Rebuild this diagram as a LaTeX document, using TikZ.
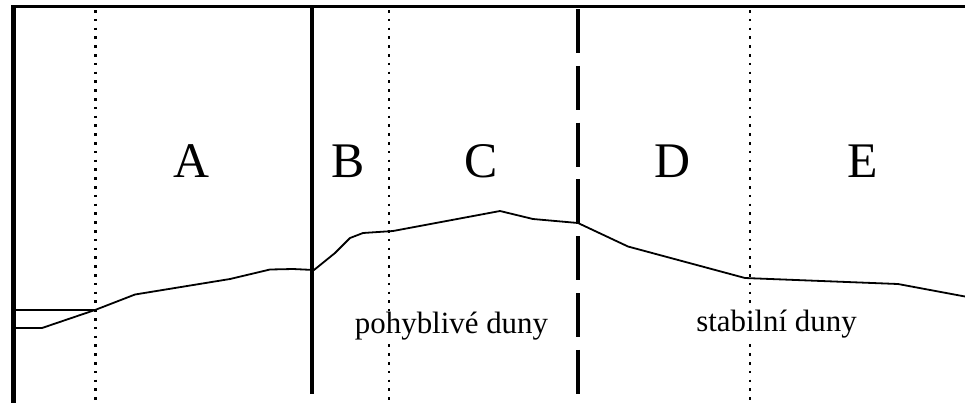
\documentclass[tikz,border=0pt]{standalone}
\usepackage{fontspec}
\setmainfont{Liberation Serif}
\begin{document}
\begin{tikzpicture}[x=1bp,y=-1bp,
  zone/.style={font=\fontsize{50}{50}\selectfont, anchor=base, inner sep=0pt},
  duny/.style={font=\fontsize{31}{31}\selectfont, anchor=base, inner sep=1bp, fill=white},
  dotline/.style={line width=2.4bp, dash pattern=on 2.6bp off 6.2bp},
  dashline/.style={line width=3.8bp, dash pattern=on 44bp off 12.8bp},
  profile/.style={line width=1.8bp, line join=round}]
\useasboundingbox[fill=white] (0,0) rectangle (965,403);
% frame
\draw[line width=2.4bp] (11,6.5) -- (965,6.5);
\draw[line width=5.5bp] (13.5,6) -- (13.5,403);
% zone boundaries
\draw[dotline] (95.5,10) -- (95.5,403);
\draw[line width=3.8bp] (312,6) -- (312,394);
\draw[dotline] (389,10) -- (389,403);
\draw[dashline] (578,9) -- (578,394);
\draw[dotline] (750,10) -- (750,403);
% profile
\draw[profile] (13,310) -- (95,310);
\draw[profile] (13,328) -- (42,328) -- (95,310) -- (135,294.5) -- (230,279)
  -- (270,269.5) -- (293,269) -- (314,270) -- (335,253) -- (350,238) -- (363,233)
  -- (393,231) -- (500,211) -- (533,219) -- (578,223) -- (628,246.5)
  -- (745,278) -- (898,284) -- (965,296.5);
% labels
\node[zone] (A) at (191.5,177) {A};
\node[zone] (B) at (348,177) {B};
\node[zone] (C) at (481,177) {C};
\node[zone] (D) at (672.5,177) {D};
\node[zone] (E) at (863,177) {E};
\node[duny] (pd) at (451.5,333) {pohyblivé duny};
\node[duny] (sd) at (776.5,331) {stabilní duny};
\end{tikzpicture}
\end{document}
